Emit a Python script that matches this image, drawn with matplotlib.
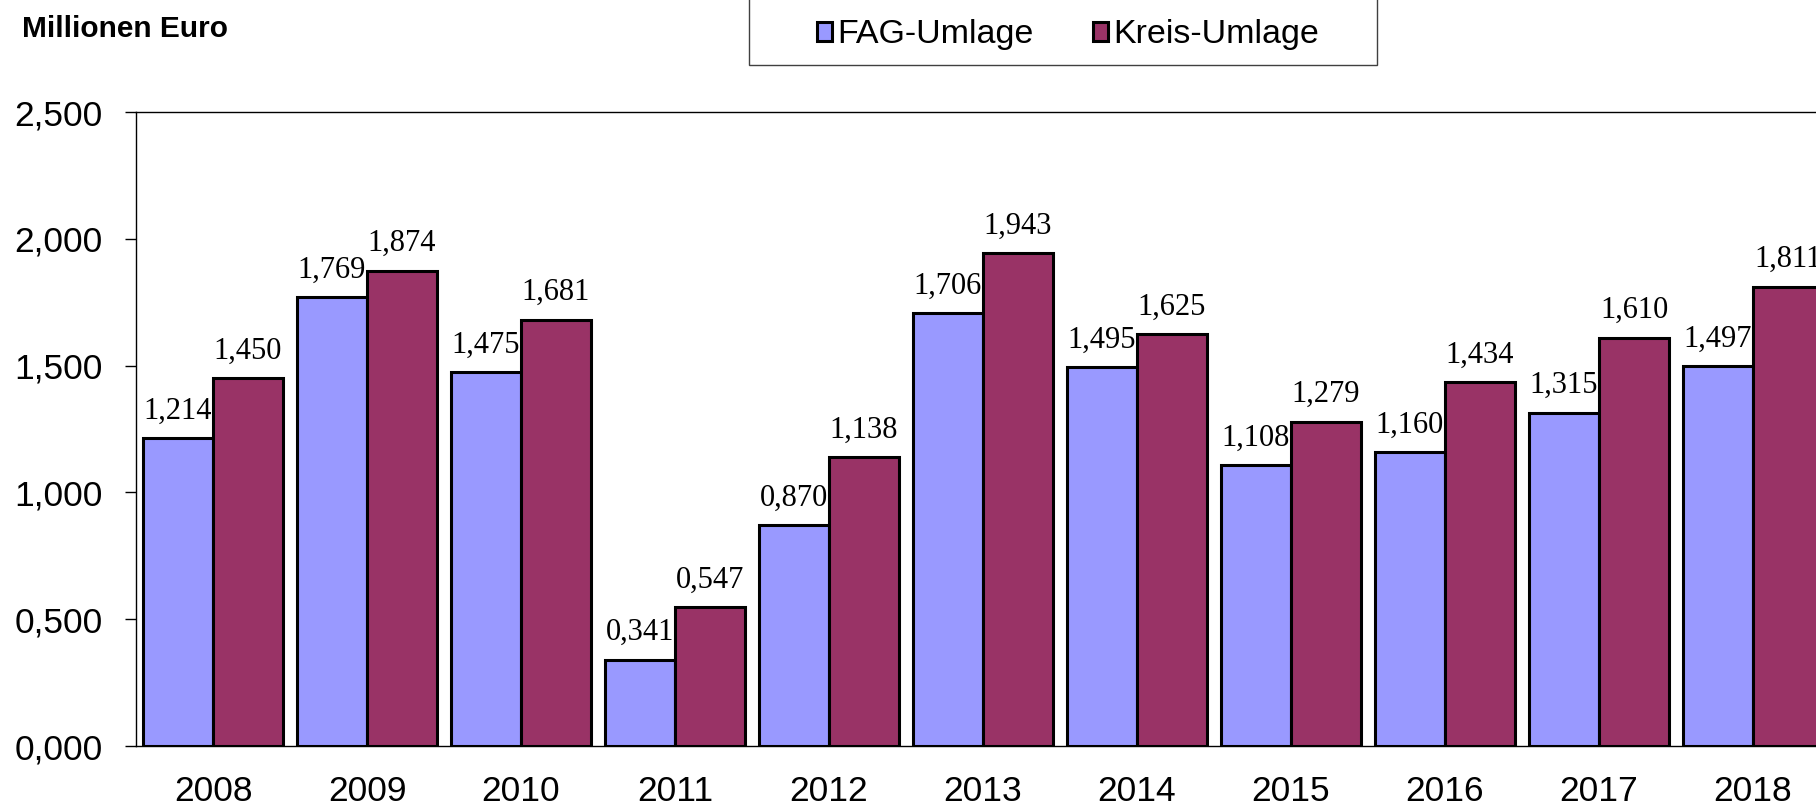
import matplotlib
matplotlib.use("Agg")
import matplotlib.pyplot as plt
import numpy as np
from matplotlib.patches import Rectangle

years = ["2008", "2009", "2010", "2011", "2012", "2013", "2014", "2015", "2016", "2017", "2018"]
fag_umlage = [1.214, 1.769, 1.475, 0.341, 0.870, 1.706, 1.495, 1.108, 1.160, 1.315, 1.497]
kreis_umlage = [1.450, 1.874, 1.681, 0.547, 1.138, 1.943, 1.625, 1.279, 1.434, 1.610, 1.811]
y_ticks = [0.0, 0.5, 1.0, 1.5, 2.0, 2.5]

FAG_COLOR = "#9999FF"
KREIS_COLOR = "#993366"


def de_fmt(v):
    return f"{v:.3f}".replace(".", ",")


plt.rcParams["font.family"] = ["Liberation Sans", "DejaVu Sans"]

W, H = 1816, 809
fig = plt.figure(figsize=(W / 100, H / 100), dpi=100)
ax = fig.add_axes([136 / W, 63 / H, (1830 - 136) / W, (746 - 112) / H])

x = np.arange(len(years))
width = 0.455
bars_fag = ax.bar(x - width / 2, fag_umlage, width, color=FAG_COLOR,
                  edgecolor="black", linewidth=2.2, label="FAG-Umlage")
bars_kreis = ax.bar(x + width / 2, kreis_umlage, width, color=KREIS_COLOR,
                    edgecolor="black", linewidth=2.2, label="Kreis-Umlage")

for bars, vals in [(bars_fag, fag_umlage), (bars_kreis, kreis_umlage)]:
    for b, v in zip(bars, vals):
        ax.annotate(de_fmt(v), (b.get_x() + b.get_width() / 2, v),
                    xytext=(0, 14), textcoords="offset points",
                    ha="center", va="baseline", fontsize=22,
                    family=["Liberation Serif", "DejaVu Serif"],
                    annotation_clip=False)

ax.set_xlim(-0.5, len(years) - 0.5)
ax.set_ylim(0, 2.5)
ax.set_yticks(y_ticks)
ax.set_yticklabels([de_fmt(t) for t in y_ticks], fontsize=25.5)
ax.set_xticks(x)
ax.set_xticklabels(years, fontsize=25.5)
ax.tick_params(axis="y", length=8, width=1, direction="out", pad=16)
ax.tick_params(axis="x", length=0, pad=21)
for side in ["left", "bottom", "top"]:
    ax.spines[side].set_linewidth(1)
ax.spines["right"].set_visible(False)

fig.text(22 / W, 1 - 29 / H, "Millionen Euro", fontsize=21.5, fontweight="bold",
         ha="left", va="center")

# legend box runs off the top edge
fig.patches.append(Rectangle((749 / W, 1 - 65 / H), 628 / W, 0.1,
                             transform=fig.transFigure, facecolor="white",
                             edgecolor="#404040", linewidth=1))
fig.legend(handles=[bars_fag, bars_kreis], labels=["FAG-Umlage", "Kreis-Umlage"],
           loc="center", bbox_to_anchor=(1068 / W, 1 - 35 / H), ncol=2,
           frameon=False, fontsize=24.5, handlelength=0.45, handleheight=0.45,
           handletextpad=0.15, columnspacing=1.75, borderpad=0)

fig.savefig("out.png", dpi=100)
